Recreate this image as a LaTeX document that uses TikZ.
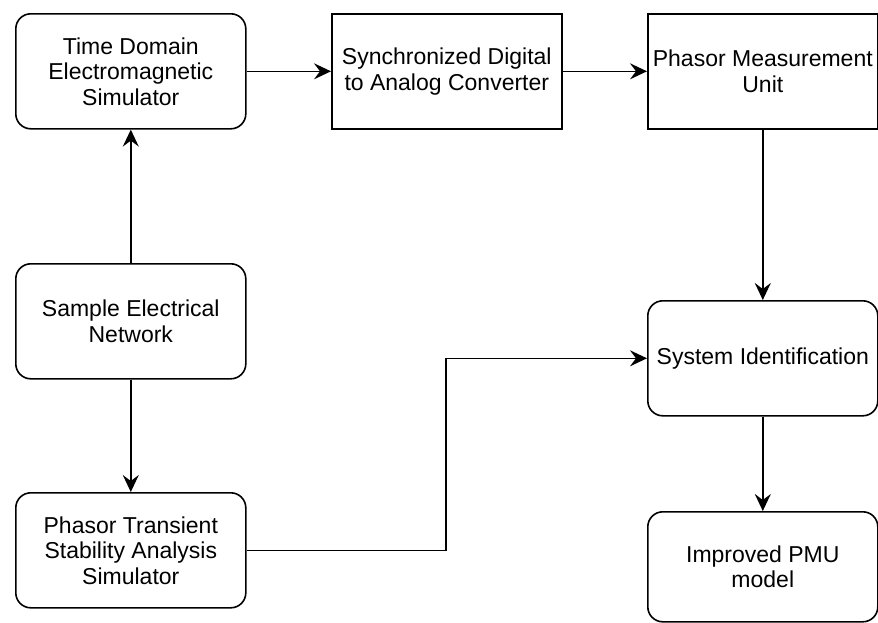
\documentclass[tikz,border=0pt]{standalone}
\usepackage{fontspec}
\setmainfont{Liberation Sans}
\usetikzlibrary{arrows.meta}
\begin{document}
\begin{tikzpicture}[x=1pt,y=-1pt,
  box/.style={draw=black, line width=1.6pt, minimum width=230pt, minimum height=115pt,
    inner sep=0pt, align=center, font=\fontsize{23}{25.5}\selectfont, anchor=north west},
  roundbox/.style={box, rounded corners=15pt},
  flow/.style={line width=1.6pt, -{Stealth[length=17pt,width=16pt,inset=6pt]}}]
\useasboundingbox (0,0) rectangle (878,622);
% top row
\node[roundbox] (tdem) at (15,13) {Time Domain\\Electromagnetic\\Simulator};
\node[box] (dac) at (331,13) {Synchronized Digital\\to Analog Converter};
\node[box] (pmu) at (647,13) {Phasor Measurement\\Unit};
% left column
\node[roundbox] (net) at (15,263) {Sample Electrical\\Network};
\node[roundbox] (tsa) at (15,492) {Phasor Transient\\Stability Analysis\\Simulator};
% right column
\node[roundbox] (sysid) at (647,300) {System Identification};
\node[roundbox, minimum height=110pt] (model) at (647,511) {Improved PMU\\model};
% connectors
\draw[flow] (tdem.east) -- (dac.west);
\draw[flow] (dac.east) -- (pmu.west);
\draw[flow] (pmu.south) -- (sysid.north);
\draw[flow] (net.north) -- (tdem.south);
\draw[flow] (net.south) -- (tsa.north);
\draw[flow] (sysid.south) -- (model.north);
\coordinate (bend) at (446,0);
\draw[flow] (tsa.east) -| (bend |- sysid.west) -- (sysid.west);
\end{tikzpicture}
\end{document}
